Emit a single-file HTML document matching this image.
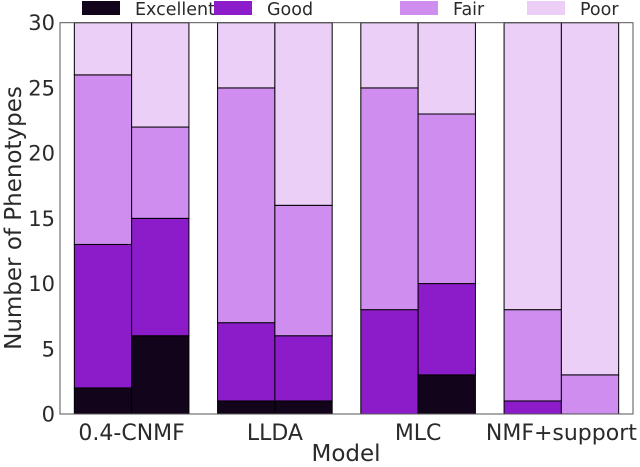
<!DOCTYPE html>
<html><head><meta charset="utf-8"><style>
body{margin:0;background:#fff}
svg text{font-family:"DejaVu Sans","Liberation Sans",sans-serif;fill:#2a2a2a}
</style></head><body>
<svg id="c" width="640" height="462"></svg>
<script>
const categories=["0.4-CNMF","LLDA","MLC","NMF+support"];
const levels=["Excellent","Good","Fair","Poor"];
const colors=["#12041a","#8c1cc9","#cf8def","#ebcff7"];
const excellentA=[2,1,0,0], goodA=[11,6,8,1], fairA=[13,18,17,7], poorA=[4,5,5,22];
const excellentB=[6,1,3,0], goodB=[9,5,7,0], fairB=[7,10,13,3], poorB=[8,14,7,27];
const yTicks=[0,5,10,15,20,25,30];
const ns="http://www.w3.org/2000/svg", svg=document.getElementById('c');
const L=60,R=633,T=22.7,B=414;
const x=v=>L+(v+0.5)/4*(R-L);
const y=v=>B-v/30*(B-T);
function mk(t,a,p){const e=document.createElementNS(ns,t);for(const k in a)e.setAttribute(k,a[k]);(p||svg).appendChild(e);return e;}
const seriesA=[excellentA,goodA,fairA,poorA], seriesB=[excellentB,goodB,fairB,poorB];
[[seriesA,-0.2],[seriesB,0.2]].forEach(([S,off],bi)=>{
 categories.forEach((c,ci)=>{let base=0;
  S.forEach((arr,li)=>{const v=arr[ci];if(v<=0)return;
   const r=mk('rect',{x:x(ci+off-0.2),y:y(base+v),width:x(0.4)-x(0),height:y(base)-y(base+v),fill:colors[li],stroke:'#000','stroke-width':1});
   
   
   base+=v;});
 });
});
const ax=mk('rect',{x:L,y:T,width:R-L,height:B-T,fill:'none',stroke:'#555','stroke-width':1});


yTicks.forEach(t=>{const e=mk('text',{x:55,y:y(t)+7.5,'text-anchor':'end','font-size':21});e.textContent=t;
 
 });
categories.forEach((c,i)=>{const e=mk('text',{x:x(i),y:440,'text-anchor':'middle','font-size':22});e.textContent=c;
 
 });
const xl=mk('text',{x:346,y:461,'text-anchor':'middle','font-size':23});xl.textContent='Model';


const yl=mk('text',{x:0,y:0,'text-anchor':'middle','font-size':23,transform:'translate(21,218) rotate(-90)'});yl.textContent='Number of Phenotypes';


const lx=[82,214,400,527];
levels.forEach((l,i)=>{const g=mk('g',{});
 
 
 mk('rect',{x:lx[i],y:1,width:38,height:14,fill:colors[i]},g);
 const t=mk('text',{x:lx[i]+53,y:15,'font-size':17.5},g);t.textContent=l;});
</script>
</body></html>
